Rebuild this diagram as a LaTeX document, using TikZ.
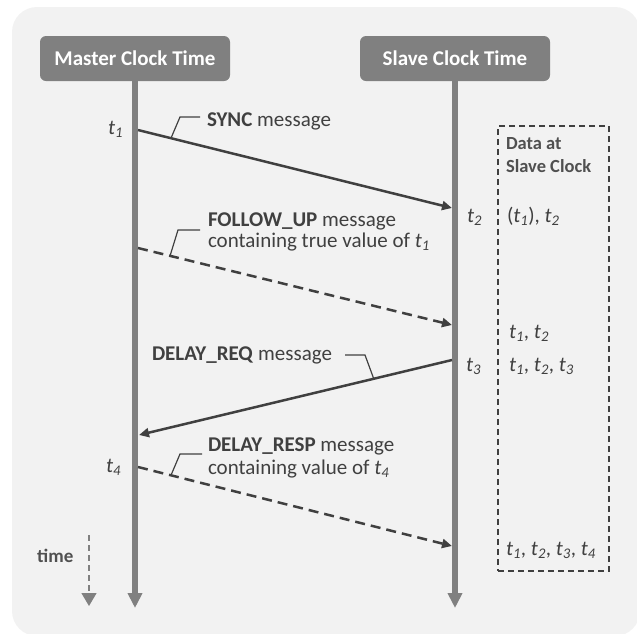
\documentclass[tikz,border=0pt]{standalone}
\usepackage{fontspec}
\setmainfont{Carlito}
\usetikzlibrary{arrows.meta}
\definecolor{bgc}{HTML}{F2F2F2}
\definecolor{hdr}{HTML}{808080}
\definecolor{ink}{HTML}{404040}
\definecolor{lbl}{HTML}{505050}
\newcommand{\tv}[1]{{\itshape t\textsubscript{#1}}}
\tikzset{
  x=1pt, y=-1pt,
  txt/.style={inner sep=0pt, outer sep=0pt, text=ink, font=\fontsize{21}{21}\selectfont},
  hdrbox/.style={fill=hdr, rounded corners=6pt, minimum width=190pt, minimum height=45pt, inner sep=0pt,
     text=white, font=\fontsize{21}{21}\selectfont\bfseries},
  timeline/.style={draw=hdr, line width=6pt, -{Triangle[width=14pt,length=15pt]}},
  msg/.style={draw=ink, line width=2.5pt, -{Triangle[width=9pt,length=10pt]}},
  msgdash/.style={msg, dash pattern=on 10pt off 6pt},
  leader/.style={draw=ink, line width=1.2pt},
  small/.style={inner sep=0pt, outer sep=0pt, text=lbl, font=\fontsize{18.5}{18.5}\selectfont\bfseries},
}
\begin{document}
\begin{tikzpicture}
\useasboundingbox (0,0) rectangle (637,633);
% background panel
\fill[bgc, rounded corners=25pt] (12,7) rectangle (640,636);

% headers
\node[hdrbox] (mbox) at (135,58.5) {Master Clock Time};
\node[hdrbox] (sbox) at (455,58.5) {Slave Clock Time};

% time lines
\coordinate (mend) at (135,608);
\coordinate (send) at (455,608);
\draw[timeline] (mbox.south) -- (mend);
\draw[timeline] (sbox.south) -- (send);

% message end points
\coordinate (m1) at (138,130);
\coordinate (s2) at (452,208);
\coordinate (mf) at (138,248);
\coordinate (sf) at (452,325);
\coordinate (s3) at (452,360);
\coordinate (m4r) at (139,435);
\coordinate (m4) at (138,467);
\coordinate (sr) at (452,546);

% messages
\draw[msg] (m1) -- (s2) coordinate[pos=0.105] (l1);
\draw[msgdash] (mf) -- (sf) coordinate[pos=0.102] (l2);
\draw[msg] (s3) -- (m4r) coordinate[pos=0.25] (l3);
\draw[msgdash] (m4) -- (sr) coordinate[pos=0.105] (l4);

% leaders
\draw[leader] (l1) -- (180,117) -- (200,117);
\draw[leader] (l2) -- (178,230) -- (200,230);
\draw[leader] (l3) -- (365,355) -- (345,355);
\draw[leader] (l4) -- (180,454) -- (202,454);

% message labels
\node[txt, anchor=base west] (lsync) at (207,126) {\textbf{SYNC} message};
\node[txt, anchor=base west] (lfu1) at (208,226) {\textbf{FOLLOW\_UP} message};
\node[txt, anchor=base west] (lfu2) at (208,247) {containing true value of \tv{1}};
\node[txt, anchor=base west] (lreq) at (152,360) {\textbf{DELAY\_REQ} message};
\node[txt, anchor=base west] (lrs1) at (208,451) {\textbf{DELAY\_RESP} message};
\node[txt, anchor=base west] (lrs2) at (208,474) {containing value of \tv{4}};

% time stamps
\node[txt, anchor=base east] (t1) at (123,134) {\tv{1}};
\node[txt, anchor=base west] (t2) at (467,222) {\tv{2}};
\node[txt, anchor=base west] (t3) at (466,371) {\tv{3}};
\node[txt, anchor=base east] (t4) at (121,472) {\tv{4}};

% data box
\node[draw=ink, line width=1.5pt, dash pattern=on 6pt off 4pt, minimum width=111pt, minimum height=445pt,
      inner sep=0pt] (databox) at (553.5,348.5) {};
\node[small, anchor=base west] (dat1) at (506,149) {Data at};
\node[small, anchor=base west] (dat2) at (506,172) {Slave Clock};
\node[txt, anchor=base west] (d1) at (507,222) {(\tv{1}), \tv{2}};
\node[txt, anchor=base west] (d2) at (509,338) {\tv{1}, \tv{2}};
\node[txt, anchor=base west] (d3) at (509,371) {\tv{1}, \tv{2}, \tv{3}};
\node[txt, anchor=base west] (d4) at (506,555) {\tv{1}, \tv{2}, \tv{3}, \tv{4}};

% time arrow
\node[inner sep=0pt, text=lbl, font=\fontsize{19}{19}\selectfont\bfseries, anchor=base west] (time) at (37,562) {time};
\coordinate (ta) at (89,535);
\coordinate (tb) at (89,606);
\draw[draw=hdr, line width=1.3pt, dash pattern=on 6pt off 4pt, -{Triangle[width=15pt,length=13pt]}] (ta) -- (tb);
\end{tikzpicture}
\end{document}
